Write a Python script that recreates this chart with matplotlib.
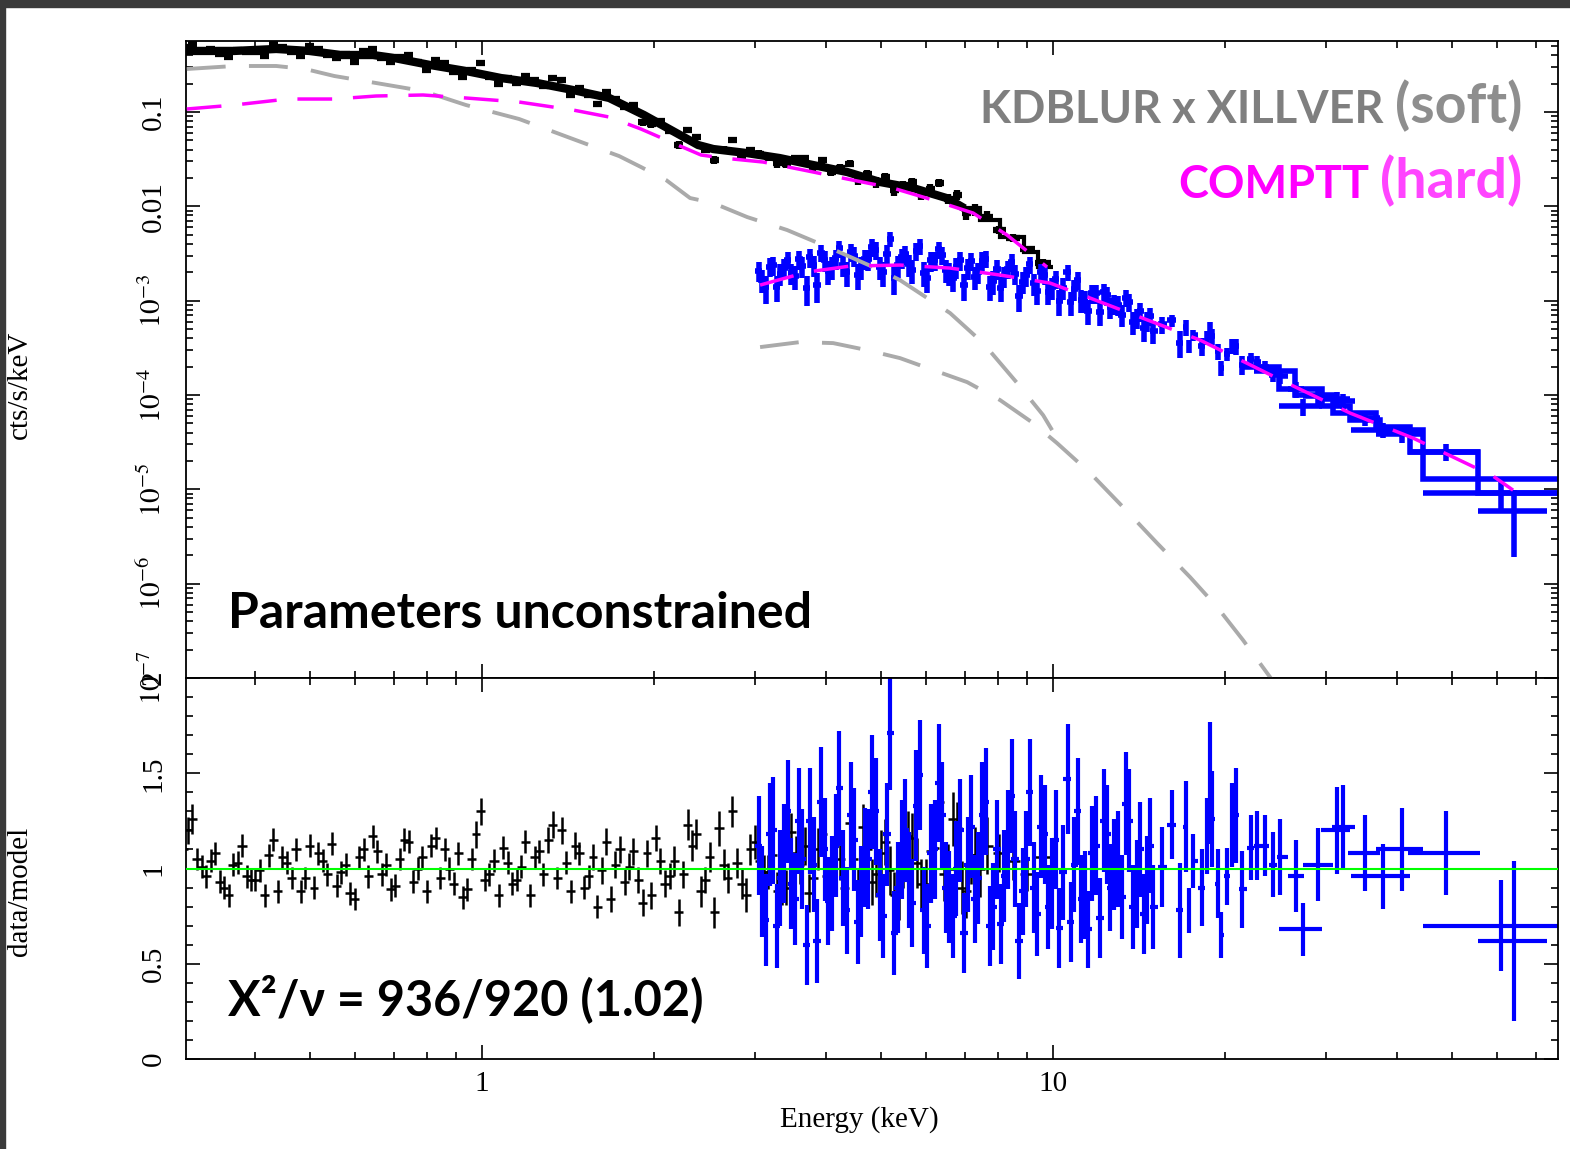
import numpy as np
import matplotlib
matplotlib.use('Agg')
import matplotlib.pyplot as plt
from matplotlib.patches import Rectangle
from matplotlib.ticker import FixedLocator, LogLocator, NullFormatter, MultipleLocator

plt.rcParams['font.family'] = ['Liberation Serif', 'DejaVu Serif']
plt.rcParams['mathtext.fontset'] = 'stix'

# ---------------- soft-band spectrum (black) ----------------
black_E = [0.300, 0.311, 0.323, 0.335, 0.347, 0.360, 0.373, 0.387, 0.401, 0.416,
           0.431, 0.447, 0.464, 0.481, 0.499, 0.517, 0.536, 0.556, 0.577, 0.598,
           0.620, 0.643, 0.667, 0.692, 0.717, 0.744, 0.771, 0.800, 0.829, 0.860,
           0.892, 0.925, 0.959, 0.994, 1.03, 1.07, 1.11, 1.15, 1.19, 1.24,
           1.28, 1.33, 1.38, 1.43, 1.48, 1.54, 1.59, 1.65, 1.71, 1.78,
           1.84, 1.91, 1.98, 2.05, 2.13, 2.21, 2.29, 2.37, 2.46, 2.55,
           2.65, 2.74, 2.85, 2.95, 3.06, 3.17, 3.29, 3.41, 3.54, 3.67,
           3.80, 3.94, 4.09, 4.24, 4.40, 4.56, 4.73, 4.90, 5.08, 5.27,
           5.47, 5.67, 5.88, 6.09, 6.32, 6.55, 6.79, 7.04, 7.30, 7.65,
           8.05, 8.50, 9.00, 9.60]
black_flux = [0.488, 0.53, 0.448, 0.462, 0.413, 0.382, 0.459, 0.433, 0.429, 0.396,
              0.535, 0.490, 0.433, 0.396, 0.497, 0.467, 0.406, 0.370, 0.410, 0.338,
              0.442, 0.470, 0.378, 0.336, 0.384, 0.399, 0.335, 0.282, 0.357, 0.327,
              0.263, 0.235, 0.278, 0.332, 0.237, 0.200, 0.231, 0.204, 0.239, 0.216,
              0.191, 0.232, 0.217, 0.152, 0.179, 0.152, 0.121, 0.163, 0.138, 0.113,
              0.118, 0.078, 0.074, 0.080, 0.063, 0.045, 0.064, 0.054, 0.040, 0.031,
              0.040, 0.050, 0.034, 0.040, 0.036, 0.033, 0.029, 0.0284, 0.0327, 0.0324,
              0.0260, 0.0309, 0.0234, 0.0253, 0.0284, 0.0193, 0.0220, 0.0180, 0.0203, 0.0148,
              0.0167, 0.0181, 0.0136, 0.0153, 0.0178, 0.0121, 0.0133, 0.0086, 0.0092, 0.0078,
              0.0056, 0.0046, 0.0035, 0.0025]
black_ratio = [1.10, 1.26, 1.01, 1.04, 0.93, 0.86, 1.03, 0.96, 0.94, 0.86,
               1.15, 1.06, 0.95, 0.88, 1.12, 1.08, 0.97, 0.91, 1.02, 0.84,
               1.10, 1.17, 0.97, 0.89, 1.05, 1.14, 1.00, 0.88, 1.16, 1.10,
               0.92, 0.85, 1.05, 1.30, 0.97, 0.86, 1.03, 0.94, 1.14, 1.06,
               0.97, 1.23, 1.20, 0.88, 1.08, 0.96, 0.80, 1.14, 1.02, 0.93,
               1.09, 0.82, 0.86, 1.04, 0.96, 0.77, 1.23, 1.18, 0.94, 0.77,
               1.02, 1.30, 0.92, 1.10, 1.04, 0.98, 0.88, 0.90, 1.08, 1.12,
               0.95, 1.18, 0.93, 1.05, 1.24, 0.89, 1.10, 0.97, 1.14, 0.86,
               1.02, 1.16, 0.92, 1.09, 1.35, 1.00, 1.21, 0.88, 1.07, 1.12,
               1.08, 1.04, 0.97, 1.06]
black_rerr = [0.07, 0.08, 0.06, 0.06, 0.06, 0.06, 0.06, 0.06, 0.06, 0.06,
              0.06, 0.06, 0.06, 0.06, 0.06, 0.06, 0.06, 0.06, 0.06, 0.06,
              0.06, 0.06, 0.06, 0.06, 0.06, 0.06, 0.06, 0.06, 0.06, 0.06,
              0.06, 0.06, 0.06, 0.07, 0.06, 0.06, 0.06, 0.06, 0.06, 0.06,
              0.06, 0.07, 0.07, 0.06, 0.06, 0.06, 0.06, 0.07, 0.07, 0.07,
              0.07, 0.07, 0.07, 0.07, 0.07, 0.07, 0.08, 0.08, 0.07, 0.08,
              0.08, 0.08, 0.08, 0.08, 0.09, 0.09, 0.10, 0.09, 0.09, 0.10,
              0.10, 0.10, 0.10, 0.11, 0.11, 0.11, 0.11, 0.12, 0.12, 0.12,
              0.12, 0.13, 0.13, 0.13, 0.14, 0.13, 0.14, 0.14, 0.15, 0.15,
              0.10, 0.10, 0.09, 0.10]

# second, interleaved set of soft-band residuals
black2_E = [0.305, 0.317, 0.329, 0.341, 0.353, 0.366, 0.380, 0.394, 0.408, 0.423,
            0.439, 0.455, 0.472, 0.490, 0.508, 0.526, 0.546, 0.566, 0.587, 0.609,
            0.631, 0.655, 0.679, 0.704, 0.730, 0.757, 0.785, 0.814, 0.844, 0.876,
            0.908, 0.942, 0.976, 1.01, 1.05, 1.09, 1.13, 1.17, 1.215, 1.26,
            1.305, 1.355, 1.405, 1.455, 1.51, 1.565, 1.62, 1.68, 1.745, 1.81,
            1.875, 1.945, 2.015, 2.09, 2.17, 2.25, 2.33, 2.415, 2.505, 2.60,
            2.695, 2.795, 2.90, 3.005, 3.115, 3.23, 3.35, 3.475, 3.605, 3.735,
            3.87, 4.015, 4.165, 4.32, 4.48, 4.645, 4.815, 4.99, 5.175, 5.37,
            5.57, 5.775, 5.985, 6.205, 6.435, 6.67, 6.915, 7.17, 7.45]
black2_ratio = [1.20, 1.05, 0.96, 1.08, 0.90, 1.02, 1.12, 0.94, 0.99, 1.07,
                0.88, 1.03, 1.10, 0.95, 0.90, 1.04, 1.13, 0.98, 0.87, 1.06,
                0.96, 1.09, 1.02, 0.91, 1.15, 0.93, 1.06, 1.12, 0.95, 1.00,
                1.08, 0.89, 1.18, 0.94, 1.04, 1.11, 0.92, 1.01, 0.86, 1.09,
                1.15, 0.95, 1.03, 1.12, 0.90, 1.06, 0.99, 0.84, 1.10, 1.01,
                0.94, 1.08, 1.16, 0.92, 1.04, 0.97, 1.12, 0.88, 1.06, 1.21,
                0.95, 1.03, 0.86, 1.14, 0.98, 1.07, 0.91, 1.19, 1.02, 0.87,
                1.10, 0.96, 1.13, 0.90, 1.05, 1.22, 0.93, 1.08, 0.99, 0.85,
                1.17, 1.03, 0.92, 1.11, 0.97, 1.26, 0.90, 1.07, 1.00]
black2_rerr = [0.07, 0.06, 0.06, 0.06, 0.06, 0.06, 0.06, 0.06, 0.06, 0.06,
               0.06, 0.06, 0.06, 0.06, 0.06, 0.06, 0.06, 0.06, 0.06, 0.06,
               0.06, 0.06, 0.06, 0.06, 0.06, 0.06, 0.06, 0.06, 0.06, 0.06,
               0.06, 0.06, 0.07, 0.06, 0.06, 0.06, 0.06, 0.06, 0.06, 0.06,
               0.07, 0.06, 0.06, 0.07, 0.06, 0.07, 0.07, 0.07, 0.07, 0.07,
               0.07, 0.07, 0.07, 0.07, 0.08, 0.07, 0.08, 0.08, 0.08, 0.09,
               0.08, 0.08, 0.09, 0.09, 0.09, 0.09, 0.10, 0.10, 0.10, 0.10,
               0.11, 0.10, 0.11, 0.11, 0.12, 0.12, 0.12, 0.12, 0.13, 0.12,
               0.13, 0.13, 0.13, 0.14, 0.14, 0.14, 0.14, 0.15, 0.15]

# folded model for the soft data (smooth part + last bins as steps)
black_model_E = [0.30, 0.368, 0.436, 0.498, 0.566, 0.644, 0.701, 0.811, 0.937, 1.080,
                 1.248, 1.443, 1.669, 1.921, 2.222, 2.389, 2.54, 2.91, 3.32, 3.80,
                 4.36, 4.98, 5.69, 6.52, 6.90]
black_model_F = [0.444, 0.444, 0.466, 0.444, 0.402, 0.402, 0.374, 0.315, 0.272, 0.229,
                 0.203, 0.171, 0.141, 0.0929, 0.0570, 0.0447, 0.0405, 0.0367, 0.0325, 0.0274,
                 0.0231, 0.0181, 0.0156, 0.0122, 0.0100]
black_step_edges = [6.90, 7.45, 8.07, 8.90, 9.40, 10.0]
black_step_F = [9.5e-3, 7.2e-3, 4.7e-3, 3.3e-3, 2.27e-3]

# model components for the soft data
soft_gray_E = [0.304, 0.368, 0.436, 0.490, 0.551, 0.652, 0.788, 0.937, 1.161, 1.443,
               1.738, 1.898, 2.100, 2.313, 2.539, 2.912, 3.421, 4.069, 4.977, 5.395,
               6.600, 7.542, 8.650, 9.605, 9.96]
soft_gray_F = [0.2857, 0.3075, 0.3075, 0.2857, 0.2408, 0.203, 0.167, 0.1186, 0.0843, 0.0517,
               0.0341, 0.0261, 0.0190, 0.01225, 0.01084, 0.0077, 0.00561, 0.00361, 0.00211, 0.00165,
               7.39e-4, 3.55e-4, 1.34e-4, 6.12e-5, 4.24e-5]
soft_mag_E = [0.304, 0.368, 0.456, 0.551, 0.652, 0.788, 0.937, 1.161, 1.443, 1.669,
              1.898, 2.222, 2.418, 2.643, 3.105, 3.649, 4.357, 5.246, 6.165, 7.243,
              8.306, 9.761]
soft_mag_F = [0.1076, 0.1186, 0.1373, 0.1373, 0.1478, 0.1515, 0.1408, 0.1276, 0.1050, 0.0885,
              0.0660, 0.0436, 0.0350, 0.0325, 0.0295, 0.0243, 0.0195, 0.0156, 0.01166, 0.00849,
              0.00496, 0.00227]

# ---------------- hard-band spectrum (blue), module A ----------------
blue_E = [3.05, 3.14, 3.23, 3.33, 3.43, 3.53, 3.64, 3.75, 3.86, 3.98,
          4.10, 4.22, 4.35, 4.48, 4.61, 4.75, 4.89, 5.04, 5.19, 5.35,
          5.51, 5.67, 5.84, 6.02, 6.20, 6.39, 6.58, 6.77, 6.98, 7.19,
          7.40, 7.62, 7.85, 8.09, 8.33, 8.58, 8.84, 9.10, 9.38, 9.66,
          9.95, 10.25, 10.6, 10.9, 11.2, 11.5, 11.9, 12.3, 12.6, 13.0,
          13.4, 13.8, 14.2, 14.6,
          14.97, 15.52, 16.16, 16.69, 17.10, 17.31, 17.59, 18.24, 18.61, 18.84,
          18.99, 19.45, 19.69, 20.17, 20.58, 20.92, 21.43, 22.22, 22.76, 23.51,
          24.28, 24.98, 26.65]
blue_flux = [2.07e-3, 1.39e-3, 2.36e-3, 1.93e-3, 2.73e-3, 1.82e-3, 2.34e-3, 2.88e-3, 1.46e-3, 2.68e-3,
             2.28e-3, 3.58e-3, 2.00e-3, 2.99e-3, 2.30e-3, 2.76e-3, 3.43e-3, 1.99e-3, 4.51e-3, 2.36e-3,
             3.12e-3, 2.11e-3, 3.77e-3, 1.75e-3, 2.68e-3, 3.05e-3, 1.98e-3, 2.27e-3, 1.46e-3, 2.62e-3,
             2.00e-3, 2.77e-3, 1.60e-3, 1.37e-3, 2.17e-3, 1.93e-3, 1.58e-3, 2.42e-3, 1.26e-3, 1.88e-3,
             1.39e-3, 0.99e-3, 2.00e-3, 1.33e-3, 1.02e-3, 0.78e-3, 1.20e-3, 1.24e-3, 0.85e-3, 0.90e-3,
             1.07e-3, 0.60e-3, 0.77e-3, 0.61e-3,
             4.8e-4, 5.6e-4, 6.2e-4, 3.6e-4, 5.2e-4, 3.3e-4, 4.3e-4, 3.3e-4, 4.1e-4, 4.9e-4,
             4.2e-4, 2.9e-4, 1.95e-4, 2.7e-4, 3.3e-4, 3.3e-4, 2.1e-4, 2.4e-4, 2.24e-4, 2.0e-4,
             1.63e-4, 1.6e-4, 1.15e-4]
blue_ratio = [1.12, 0.73, 1.20, 0.95, 1.30, 0.84, 1.05, 1.25, 0.62, 1.10,
              0.92, 1.42, 0.78, 1.15, 0.88, 1.05, 1.30, 0.75, 1.71, 0.90,
              1.20, 0.82, 1.49, 0.70, 1.10, 1.28, 0.85, 1.00, 0.66, 1.22,
              0.95, 1.35, 0.80, 0.71, 1.15, 1.05, 0.88, 1.40, 0.76, 1.18,
              0.92, 0.69, 1.47, 1.02, 0.84, 0.68, 1.12, 1.25, 0.90, 1.05,
              1.34, 0.80, 1.10, 0.94,
              0.80, 1.01, 1.23, 0.78, 1.22, 0.78, 1.04, 0.90, 1.17, 1.45,
              1.26, 0.92, 0.65, 0.96, 1.23, 1.28, 0.89, 1.11, 1.12, 1.12,
              1.02, 1.06, 0.96]
blue_rerr = [0.26, 0.24, 0.28, 0.25, 0.27, 0.24, 0.26, 0.28, 0.22, 0.27,
             0.25, 0.30, 0.23, 0.27, 0.24, 0.26, 0.28, 0.22, 0.30, 0.24,
             0.27, 0.23, 0.29, 0.22, 0.26, 0.28, 0.24, 0.25, 0.21, 0.27,
             0.24, 0.28, 0.23, 0.21, 0.26, 0.25, 0.23, 0.28, 0.22, 0.26,
             0.24, 0.21, 0.29, 0.25, 0.23, 0.20, 0.26, 0.27, 0.23, 0.25,
             0.27, 0.22, 0.25, 0.23,
             0.22, 0.21, 0.18, 0.25, 0.24, 0.12, 0.14, 0.20, 0.20, 0.32,
             0.25, 0.18, 0.12, 0.15, 0.22, 0.25, 0.20, 0.17, 0.18, 0.16,
             0.17, 0.20, 0.19]

# module B, 3-15 keV
blue2_E = [3.09, 3.19, 3.28, 3.38, 3.48, 3.59, 3.70, 3.81, 3.92, 4.04,
           4.16, 4.29, 4.42, 4.55, 4.68, 4.82, 4.97, 5.12, 5.27, 5.43,
           5.59, 5.76, 5.93, 6.11, 6.30, 6.49, 6.68, 6.88, 7.09, 7.30,
           7.51, 7.74, 7.97, 8.21, 8.46, 8.71, 8.97, 9.24, 9.52, 9.81,
           10.1, 10.4, 10.75, 11.05, 11.35, 11.7, 12.1, 12.45, 12.8, 13.2,
           13.6, 14.0, 14.4, 14.8]
blue2_flux = [1.65e-3, 2.29e-3, 1.40e-3, 2.24e-3, 1.96e-3, 2.75e-3, 1.36e-3, 2.38e-3, 3.24e-3, 2.04e-3,
              2.80e-3, 2.41e-3, 3.30e-3, 1.87e-3, 2.78e-3, 3.68e-3, 2.28e-3, 3.13e-3, 1.74e-3, 2.87e-3,
              2.43e-3, 3.39e-3, 1.97e-3, 2.67e-3, 3.49e-3, 2.12e-3, 1.73e-3, 2.69e-3, 2.22e-3, 1.78e-3,
              2.66e-3, 1.41e-3, 2.16e-3, 1.83e-3, 2.57e-3, 1.12e-3, 1.85e-3, 1.53e-3, 1.99e-3, 1.24e-3,
              1.70e-3, 1.37e-3, 0.96e-3, 1.64e-3, 1.01e-3, 1.20e-3, 0.76e-3, 1.14e-3, 0.92e-3, 0.71e-3,
              0.97e-3, 0.66e-3, 0.51e-3, 0.69e-3]
blue2_ratio = [0.88, 1.18, 0.70, 1.08, 0.92, 1.25, 0.60, 1.02, 1.35, 0.83,
               1.12, 0.95, 1.28, 0.72, 1.06, 1.40, 0.86, 1.18, 0.66, 1.10,
               0.94, 1.33, 0.78, 1.08, 1.45, 0.90, 0.75, 1.20, 1.02, 0.84,
               1.28, 0.70, 1.10, 0.96, 1.38, 0.62, 1.05, 0.90, 1.22, 0.80,
               1.15, 0.98, 0.72, 1.30, 0.86, 1.08, 0.74, 1.18, 1.02, 0.85,
               1.25, 0.92, 0.76, 1.12]
blue2_rerr = [0.24, 0.27, 0.22, 0.26, 0.24, 0.28, 0.21, 0.25, 0.29, 0.23,
              0.27, 0.25, 0.28, 0.22, 0.26, 0.30, 0.24, 0.27, 0.22, 0.26,
              0.25, 0.29, 0.23, 0.26, 0.31, 0.24, 0.22, 0.27, 0.25, 0.23,
              0.28, 0.21, 0.26, 0.24, 0.30, 0.20, 0.25, 0.24, 0.27, 0.22,
              0.26, 0.25, 0.21, 0.28, 0.23, 0.25, 0.21, 0.26, 0.24, 0.22,
              0.27, 0.23, 0.21, 0.25]

# wide high-energy bins (centre, lower and upper bin edge)
blue_hi_E = [27.4, 29.1, 31.4, 32.2, 35.2, 37.8, 40.8, 48.8, 60.9, 64.2]
blue_hi_lo = [24.9, 27.4, 29.4, 30.8, 32.9, 33.2, 36.8, 41.8, 44.4, 55.5]
blue_hi_hi = [29.6, 30.9, 33.1, 33.8, 37.3, 42.1, 44.4, 55.9, 78.0, 73.3]
blue_hi_flux = [7.6e-5, 9.7e-5, 9.1e-5, 8.7e-5, 5.7e-5, 4.3e-5, 3.9e-5, 2.5e-5, 9.1e-6, 5.9e-6]
blue_hi_ratio = [0.68, 1.02, 1.20, 1.22, 1.08, 0.96, 1.10, 1.08, 0.70, 0.62]
blue_hi_rerr = [0.14, 0.19, 0.23, 0.22, 0.20, 0.17, 0.22, 0.22, 0.24, 0.42]

# folded model steps for the two hard-band modules
stepA_edges = [21.5, 24.9, 29.6, 33.1, 37.3, 44.4, 78.0]
stepA_F = [2.0e-4, 1.15e-4, 7.6e-5, 5.4e-5, 4.24e-5, 1.28e-5]
stepB_edges = [22.5, 26.5, 30.9, 36.8, 42.1, 55.5, 78.0]
stepB_F = [1.8e-4, 1.0e-4, 6.5e-5, 4.6e-5, 2.48e-5, 9.1e-6]

# model components for the hard data
hard_mag_E = [3.068, 3.709, 4.411, 5.395, 6.600, 8.076, 9.879, 11.61, 18.09, 25.70,
              33.13, 42.71, 50.17, 58.96, 63.9]
hard_mag_F = [1.464e-3, 2.011e-3, 2.327e-3, 2.385e-3, 2.216e-3, 1.869e-3, 1.537e-3, 1.066e-3, 3.82e-4, 1.337e-4,
              6.43e-5, 3.49e-5, 2.20e-5, 1.38e-5, 9.8e-6]
hard_gray_E = [3.068, 3.605, 4.119, 4.724, 5.395, 6.165, 7.07, 8.076, 9.226, 10.16,
               11.61, 13.26, 15.21, 17.38, 19.38, 21.51, 23.99, 27.08]
hard_gray_F = [3.22e-4, 3.64e-4, 3.55e-4, 2.99e-4, 2.46e-4, 1.84e-4, 1.37e-4, 8.83e-5, 5.04e-5, 3.09e-5,
               1.49e-5, 6.48e-6, 2.69e-6, 1.17e-6, 5.64e-7, 2.52e-7, 1.02e-7, 3.57e-8]


def bin_halfwidths(e):
    e = np.asarray(e)
    mid = np.sqrt(e[1:] * e[:-1])
    lo = np.r_[e[0] ** 2 / mid[0], mid]
    hi = np.r_[mid, e[-1] ** 2 / mid[-1]]
    return np.array([e - lo, hi - e])


bE, bF, bR, bRe = map(np.array, (black_E, black_flux, black_ratio, black_rerr))
bX = bin_halfwidths(bE)
b2E, b2R, b2Re = map(np.array, (black2_E, black2_ratio, black2_rerr))
b2X = bin_halfwidths(b2E)

uE, uF, uR, uRe = map(np.array, (blue_E, blue_flux, blue_ratio, blue_rerr))
uX = bin_halfwidths(uE)
u2E, u2F, u2R, u2Re = map(np.array, (blue2_E, blue2_flux, blue2_ratio, blue2_rerr))
u2X = bin_halfwidths(u2E)

hE = np.array(blue_hi_E)
hX = np.array([hE - np.array(blue_hi_lo), np.array(blue_hi_hi) - hE])
hF, hR, hRe = map(np.array, (blue_hi_flux, blue_hi_ratio, blue_hi_rerr))

fig = plt.figure(figsize=(15.7, 11.49), dpi=100)
fig.patches.append(Rectangle((0, 1 - 7 / 1149), 1, 7 / 1149, transform=fig.transFigure,
                             color='#3a3a3a', zorder=0))
fig.patches.append(Rectangle((0, 0), 5 / 1570, 1, transform=fig.transFigure,
                             color='#3a3a3a', zorder=0))

ax1 = fig.add_axes([0.11847, 0.40992, 0.87389, 0.55440])
ax2 = fig.add_axes([0.11847, 0.07833, 0.87389, 0.33159])

xlim = (0.303, 76.6)
gray = '#aaaaaa'
mag = '#ff00ff'
dash = (0, (10, 6))
eb = dict(fmt='none', capsize=0, zorder=2)

# ---- upper panel ----
ax1.errorbar(bE, bF, xerr=bX, yerr=bF * bRe / bR, ecolor='black', elinewidth=4.5, **eb)
ax1.plot(black_model_E, black_model_F, color='black', lw=6, zorder=2)
ax1.stairs(black_step_F, black_step_edges, baseline=None, color='black', lw=3, zorder=2)

ax1.errorbar(uE, uF, xerr=uX, yerr=uF * uRe / uR, ecolor='blue', elinewidth=4, **eb)
ax1.errorbar(u2E, u2F, xerr=u2X, yerr=u2F * u2Re / u2R, ecolor='blue', elinewidth=4, **eb)
ax1.errorbar(hE, hF, xerr=hX, yerr=hF * hRe / hR, ecolor='blue', elinewidth=4, **eb)
ax1.stairs(stepA_F, stepA_edges, baseline=None, color='blue', lw=4, zorder=2)
ax1.stairs(stepB_F, stepB_edges, baseline=None, color='blue', lw=4, zorder=2)

ax1.plot(soft_gray_E, soft_gray_F, color=gray, lw=2.8, linestyle=dash, zorder=3)
ax1.plot(hard_gray_E, hard_gray_F, color=gray, lw=2.8, linestyle=dash, zorder=3)
ax1.plot(soft_mag_E, soft_mag_F, color=mag, lw=2.5, linestyle=dash, zorder=3)
ax1.plot(hard_mag_E, hard_mag_F, color=mag, lw=2.5, linestyle=dash, zorder=3)

ax1.set_xscale('log')
ax1.set_yscale('log')
ax1.set_xlim(*xlim)
ax1.set_ylim(1e-7, 0.566)

# ---- lower panel ----
ax2.errorbar(bE, bR, xerr=bX, yerr=bRe, ecolor='black', elinewidth=1.8, **eb)
ax2.errorbar(b2E, b2R, xerr=b2X, yerr=b2Re, ecolor='black', elinewidth=1.8, **eb)
ax2.errorbar(uE, uR, xerr=uX, yerr=uRe, ecolor='blue', elinewidth=3, **eb)
ax2.errorbar(u2E, u2R, xerr=u2X, yerr=u2Re, ecolor='blue', elinewidth=3, **eb)
ax2.errorbar(hE, hR, xerr=hX, yerr=hRe, ecolor='blue', elinewidth=3, **eb)
ax2.axhline(1.0, color='#00ff00', lw=1.5, zorder=4)
ax2.set_xscale('log')
ax2.set_xlim(*xlim)
ax2.set_ylim(0, 2)

# ---- ticks ----
for ax in (ax1, ax2):
    ax.tick_params(which='both', direction='in', top=True, right=True, width=1.2,
                   labelsize=21)
    ax.tick_params(which='major', length=10)
    ax.tick_params(which='minor', length=5)
    for s in ax.spines.values():
        s.set_linewidth(1.3)
    ax.xaxis.set_major_locator(FixedLocator([1, 10]))
    ax.xaxis.set_minor_locator(LogLocator(base=10, subs=np.arange(2, 10)))
    ax.xaxis.set_minor_formatter(NullFormatter())

ax1.set_xticklabels([])
ax2.set_xticklabels(['1', '10'])
ax2.tick_params(axis='x', pad=9)

dec = [1e-7, 1e-6, 1e-5, 1e-4, 1e-3, 1e-2, 1e-1]
dec_labels = [r'$10^{-7}$', r'$10^{-6}$', r'$10^{-5}$', r'$10^{-4}$', r'$10^{-3}$', '0.01', '0.1']
ax1.yaxis.set_major_locator(FixedLocator(dec))
ax1.set_yticklabels(dec_labels, rotation=90, va='center')
ax1.yaxis.set_minor_locator(LogLocator(base=10, subs=np.arange(2, 10)))
ax1.yaxis.set_minor_formatter(NullFormatter())
ax1.tick_params(axis='y', pad=14)

ax2.yaxis.set_major_locator(FixedLocator([0, 0.5, 1, 1.5, 2]))
ax2.set_yticklabels(['0', '0.5', '1', '1.5', '2'], rotation=90, va='center')
ax2.yaxis.set_minor_locator(MultipleLocator(0.1))
ax2.tick_params(axis='y', pad=14)

ax1.set_ylabel('cts/s/keV', fontsize=21)
ax1.yaxis.set_label_coords(-0.1115, 0.46)
ax2.set_ylabel('data/model', fontsize=21)
ax2.yaxis.set_label_coords(-0.1115, 0.441)
ax2.set_xlabel('Energy (keV)', fontsize=21)
ax2.xaxis.set_label_coords(0.491, -0.16)
ax2.xaxis.label.set_va('center')

# ---- annotations ----
bold = ['Lato', 'DejaVu Sans']
ax1.text(0.0306, 0.0785, 'Parameters unconstrained', transform=ax1.transAxes,
         family=bold, fontweight='bold', fontsize=36, color='black', va='baseline')
ax2.text(0.0306, 0.1155, 'X\u00b2/\u03bd = 936/920 (1.02)', transform=ax2.transAxes,
         family=bold, fontweight='bold', fontsize=35, color='black', va='baseline')

fig.canvas.draw()
renderer = fig.canvas.get_renderer()
inv = ax1.transAxes.inverted()


def two_part(y, left, right, c_left, c_right, size_left, size_right):
    t = ax1.text(0.9738, y, right, transform=ax1.transAxes, ha='right', va='baseline',
                 family=bold, fontweight='bold', fontsize=size_right, color=c_right)
    bb = t.get_window_extent(renderer=renderer)
    x0 = inv.transform((bb.x0, bb.y0))[0]
    ax1.text(x0 - 0.008, y, left, transform=ax1.transAxes, ha='right', va='baseline',
             family=bold, fontweight='bold', fontsize=size_left, color=c_left)


two_part(0.871, 'KDBLUR x XILLVER', '(soft)', '#7f7f7f', '#8e8e8e', 32.5, 40)
two_part(0.7535, 'COMPTT', '(hard)', '#ff00ff', '#ff44ff', 32.5, 40)

fig.savefig('out.png', dpi=100)
